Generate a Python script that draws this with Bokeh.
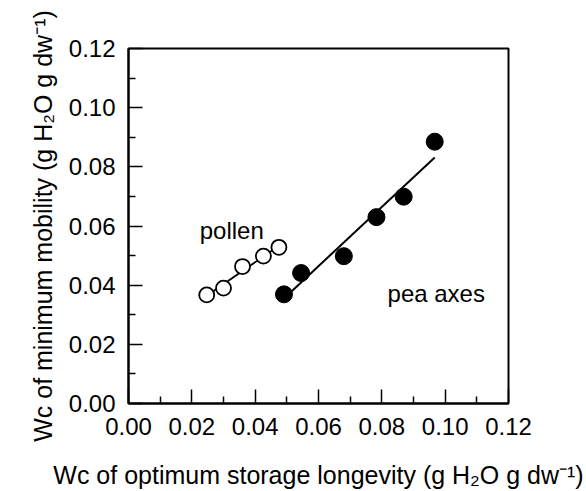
import numpy as np
from bokeh.plotting import figure
from bokeh.models import Range1d, FixedTicker, NumeralTickFormatter
from bokeh.core.properties import value
from bokeh.embed import file_html
from bokeh.resources import INLINE

# data
pollen_x = [0.0247, 0.0300, 0.0360, 0.0426, 0.0475]
pollen_y = [0.0367, 0.0390, 0.0463, 0.0498, 0.0528]
pea_x = [0.0491, 0.0545, 0.0680, 0.0783, 0.0869, 0.0967]
pea_y = [0.0369, 0.0441, 0.0498, 0.0630, 0.0699, 0.0885]
major_ticks = [0.00, 0.02, 0.04, 0.06, 0.08, 0.10, 0.12]
minor_ticks = [0.01, 0.03, 0.05, 0.07, 0.09, 0.11]

FONT = "Liberation Sans"
FS = "24px"
FS_LABEL = "25px"

p = figure(width=586, height=491, output_backend="svg", toolbar_location=None,
           x_range=Range1d(0, 0.12), y_range=Range1d(0, 0.12),
           min_border_left=128, min_border_right=78, min_border_top=48, min_border_bottom=87)
p.grid.visible = False
p.background_fill_color = "white"
p.border_fill_color = "white"
p.outline_line_color = "black"
p.outline_line_width = 2

for ax in (p.xaxis[0], p.yaxis[0]):
    ax.ticker = FixedTicker(ticks=major_ticks, minor_ticks=minor_ticks)
    ax.formatter = NumeralTickFormatter(format="0.00")
    ax.major_tick_in = 14
    ax.major_tick_out = 0
    ax.minor_tick_in = 7
    ax.minor_tick_out = 0
    ax.major_tick_line_width = 1.5
    ax.minor_tick_line_width = 1.5
    ax.major_tick_line_color = "black"
    ax.minor_tick_line_color = "black"
    ax.axis_line_width = 2
    ax.axis_line_color = "black"
    ax.major_label_text_font = FONT
    ax.major_label_text_font_size = FS
    ax.major_label_text_color = "black"
    ax.axis_label_text_font = FONT
    ax.axis_label_text_font_size = FS_LABEL
    ax.axis_label_text_font_style = "normal"
    ax.axis_label_text_color = "black"

p.xaxis.axis_label = "Wc of optimum storage longevity (g H\u2082O g dw\u207b\u00b9)"
p.yaxis.axis_label = "Wc of minimum mobility (g H\u2082O g dw\u207b\u00b9)"
p.xaxis.major_label_standoff = 14
p.yaxis.major_label_standoff = 13
p.xaxis.axis_label_standoff = 23
p.yaxis.axis_label_standoff = 9

# regression lines
ps = np.polyfit(pollen_x, pollen_y, 1)
qs = np.polyfit(pea_x, pea_y, 1)
px_line = [min(pollen_x), max(pollen_x)]
qx_line = [min(pea_x), max(pea_x)]
p.line(px_line, list(np.polyval(ps, px_line)), line_color="black", line_width=1.8)
p.line(qx_line, list(np.polyval(qs, qx_line)), line_color="black", line_width=2)

p.scatter(pollen_x, pollen_y, marker="circle", size=15, fill_color="white",
          line_color="black", line_width=1.8)
p.scatter(pea_x, pea_y, marker="circle", size=17, fill_color="black",
          line_color="black")

p.text(x=[0.0225], y=[0.0585], text=["pollen"], text_font=value(FONT),
       text_font_size=FS, text_align="left", text_baseline="alphabetic", text_color="black")
p.text(x=[0.0818], y=[0.0373], text=["pea axes"], text_font=value(FONT),
       text_font_size=FS, text_align="left", text_baseline="alphabetic", text_color="black")

open("out.html", "w").write(file_html(p, INLINE))
